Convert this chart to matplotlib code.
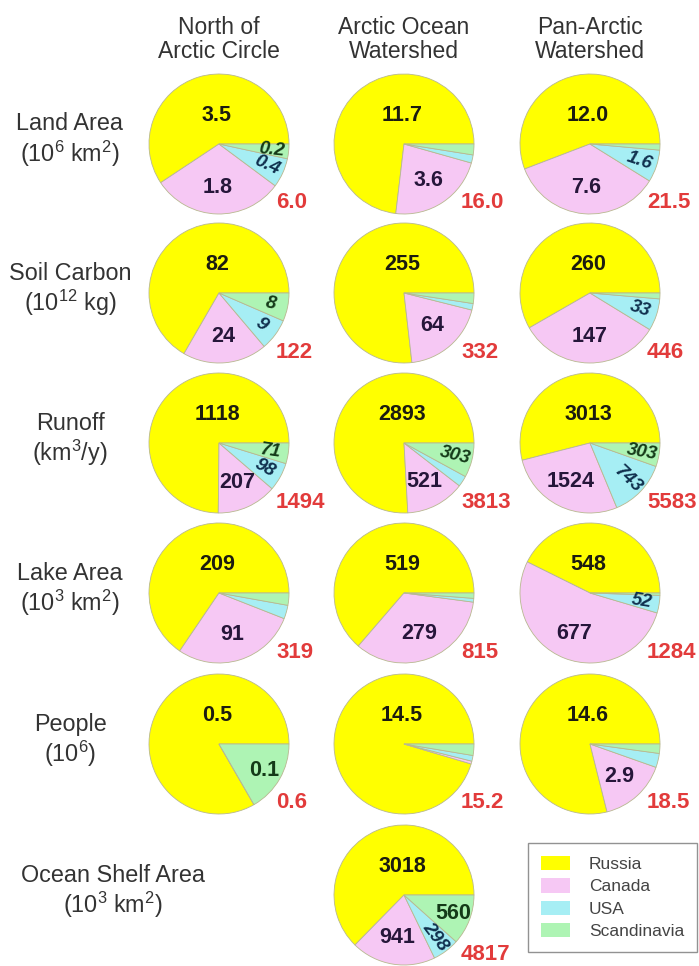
import matplotlib
matplotlib.use("Agg")
import matplotlib.pyplot as plt
from matplotlib.patches import Patch
import numpy as np

plt.rcParams['font.family'] = ['Liberation Sans', 'DejaVu Sans']
plt.rcParams['mathtext.fontset'] = 'custom'
plt.rcParams['mathtext.rm'] = 'Liberation Sans'
plt.rcParams['mathtext.it'] = 'Liberation Sans:italic'
plt.rcParams['mathtext.bf'] = 'Liberation Sans:bold'
plt.rcParams['mathtext.default'] = 'regular'

regions = ["North of\nArctic Circle", "Arctic Ocean\nWatershed", "Pan-Arctic\nWatershed"]
measures = ["Land Area\n(10$^6$ km$^2$)",
            "Soil Carbon\n(10$^{12}$ kg)",
            "Runoff\n(km$^3$/y)",
            "Lake Area\n(10$^3$ km$^2$)",
            "People\n(10$^6$)",
            "Ocean Shelf Area\n(10$^3$ km$^2$)"]
countries = ["Russia", "Canada", "USA", "Scandinavia"]

# rows = measures, columns = regions; None where there is no pie
russia = [[3.5, 11.7, 12.0], [82, 255, 260], [1118, 2893, 3013],
          [209, 519, 548], [0.5, 14.5, 14.6], [None, 3018, None]]
canada = [[1.8, 3.6, 7.6], [24, 64, 147], [207, 521, 1524],
          [91, 279, 677], [0.0, 0.1, 2.9], [None, 941, None]]
usa = [[0.4, 0.3, 1.6], [9, 5, 33], [98, 96, 743],
       [10, 7, 52], [0.0, 0.2, 0.6], [None, 298, None]]
scandinavia = [[0.2, 0.4, 0.3], [8, 8, 6], [71, 303, 303],
               [9, 10, 7], [0.1, 0.4, 0.4], [None, 560, None]]
totals = [[6.0, 16.0, 21.5], [122, 332, 446], [1494, 3813, 5583],
          [319, 815, 1284], [0.6, 15.2, 18.5], [None, 4817, None]]
# which slices get a number (R=Russia, C=Canada, U=USA, S=Scandinavia)
shown = [["RCUS", "RC", "RCU"], ["RCUS", "RC", "RCU"], ["RCUS", "RCS", "RCUS"],
         ["RC", "RC", "RCU"], ["RS", "R", "RC"], ["", "RCUS", ""]]
decimals = [1, 0, 0, 0, 1, 0]

colors = ['#ffff00', '#f6c8f4', '#a6eef4', '#aef4b4']
text_colors = ['#1c1c10', '#26163a', '#10304e', '#143a18']
codes = "RCUS"

W, H = 699, 966
col_x = [219, 404, 590]
row_y = [144, 293, 443, 593, 744, 895]
R = 70
label_x = [70, 70, 70, 70, 70, 113]

fig = plt.figure(figsize=(W / 100, H / 100), dpi=100)
ax = fig.add_axes([0, 0, 1, 1])

for j, title in enumerate(regions):
    for k, line in enumerate(title.split("\n")):
        ax.text(col_x[j], H - 27 - 25 * k, line, ha='center', va='center',
                fontsize=16.5, color='#333333')

for i, name in enumerate(measures):
    for k, line in enumerate(name.split("\n")):
        ax.text(label_x[i], H - (row_y[i] - 20 + 30 * k), line, ha='center',
                va='center', fontsize=16.8, color='#333333')

    for j in range(3):
        vals = [russia[i][j], canada[i][j], usa[i][j], scandinavia[i][j]]
        if vals[0] is None:
            continue
        cx, cy = col_x[j], H - row_y[i]
        wedges, _ = ax.pie(vals, colors=colors, startangle=0, counterclock=True,
                           radius=R, center=(cx, cy),
                           wedgeprops=dict(edgecolor='#b8b890', linewidth=0.6))
        fmt = "{:.%df}" % decimals[i]
        for n, w in enumerate(wedges):
            if codes[n] not in shown[i][j]:
                continue
            txt = fmt.format(vals[n])
            mid = np.deg2rad((w.theta1 + w.theta2) / 2)
            span = w.theta2 - w.theta1
            if n == 0:
                ax.text(cx - 2, cy + 0.41 * R, txt, ha='center', va='center',
                        fontsize=15.5, fontweight='bold', color=text_colors[n])
            elif n == 1:
                ax.text(cx + 0.62 * R * np.cos(mid), cy + 0.62 * R * np.sin(mid), txt,
                        ha='center', va='center', fontsize=15.5, fontweight='bold',
                        color=text_colors[n])
            else:
                upright = n == 3 and span > 40
                rot = 0 if upright else np.rad2deg(mid) - 360
                ax.text(cx + 0.75 * R * np.cos(mid), cy + 0.75 * R * np.sin(mid), txt,
                        ha='center', va='center', rotation=rot,
                        rotation_mode='anchor', fontsize=15.5 if upright else 13.5,
                        fontweight='bold', fontstyle='normal' if upright else 'italic',
                        color=text_colors[n])
        ax.text(cx + 57, cy - 59, fmt.format(totals[i][j]), ha='left', va='center',
                fontsize=16, fontweight='bold', color='#e23b3b')

handles = [Patch(facecolor=c, edgecolor='none') for c in colors]
leg = fig.legend(handles, countries, loc='lower right',
                 bbox_to_anchor=(697 / W, 1 - 952 / H), frameon=True,
                 fancybox=False, edgecolor='#777777', fontsize=12.5,
                 handlelength=1.65, handleheight=0.9, handletextpad=1.1,
                 labelspacing=0.35, borderpad=0.75, borderaxespad=0)
leg.get_frame().set_linewidth(1.0)
for t in leg.get_texts():
    t.set_color('#444444')

ax.set_xlim(0, W)
ax.set_ylim(0, H)
ax.set_aspect('equal')
ax.axis('off')

fig.savefig("out.png", dpi=100)
